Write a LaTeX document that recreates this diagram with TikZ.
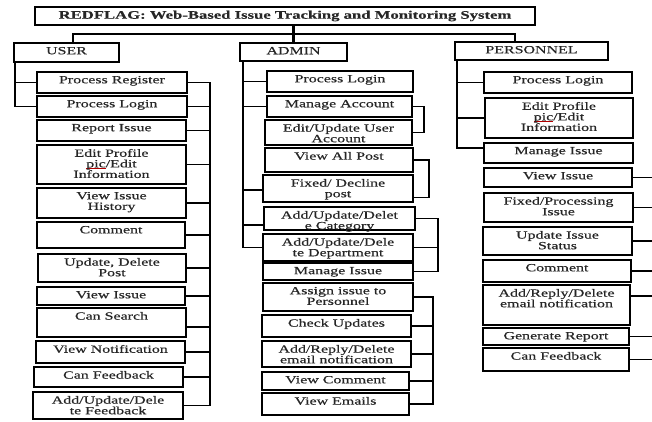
\documentclass[tikz,border=0pt]{standalone}
\usepackage{fontspec}
\setmainfont{Liberation Serif}[FakeStretch=1.45,FakeBold=0.4]
% a word marked with a thin red line under it
\newcommand\squig[1]{\setbox0\hbox{#1}\rlap{\textcolor{red!70!black}{\rule[-1.6pt]{\wd0}{0.8pt}}}\box0}
% a box from (left,top) to (right,bottom) with its text set at the top
\newcommand\bx[6]{%
  \node[box, minimum width={(#4)-(#2)}, minimum height={(#5)-(#3)}] (#1) at (#2,#3) {};
  \node[boxtext] (#1-t) at ([yshift=-4pt]#1.north) {#6};
}
\begin{document}
\begin{tikzpicture}[x=1pt,y=-1pt,
  every node/.style={inner sep=0pt, outer sep=0pt},
  box/.style={draw=black, line width=1.7pt, rectangle, anchor=north west},
  boxtext/.style={anchor=north, align=center, text=black!85, font=\fontsize{11}{10.6}\selectfont},
  wire/.style={draw=black, line width=1.7pt},
]
\fill[white] (0,0) rectangle (652,421);
\useasboundingbox (0,0) rectangle (652,421);

% title
\node[box, minimum width=500, minimum height=18] (title) at (35,7) {};
\node[anchor=center, text=black!85, font=\fontsize{11.5}{12}\selectfont\bfseries] (title-t) at (title.center) {REDFLAG: Web-Based Issue Tracking and Monitoring System};

% column heads
\bx{uhead}{14}{43}{119}{62}{USER}
\bx{ahead}{240}{43}{347}{61}{ADMIN}
\bx{phead}{455}{42}{608}{60}{PERSONNEL}

% user column
\bx{ureg}{37}{72}{187}{93}{Process Register}
\bx{ulog}{37}{96}{187}{117}{Process Login}
\bx{urep}{37}{120}{186}{141}{Report Issue}
\bx{uedit}{37}{145}{186}{184}{Edit Profile\\\squig{pic}/Edit\\Information}
\bx{uhist}{37}{188}{186}{218}{View Issue\\History}
\bx{ucom}{37}{222}{185}{248}{Comment}
\bx{uupd}{38}{254}{186}{282}{Update, Delete\\Post}
\bx{uview}{37}{287}{185}{305}{View Issue}
\bx{usearch}{37}{308}{186}{337}{Can Search}
\bx{unotif}{36}{341}{185}{363}{View Notification}
\bx{ufeed}{34}{367}{183}{387}{Can Feedback}
\bx{uaddfb}{33}{392}{183}{419}{Add/Update/Dele\\te Feedback}

% admin column
\bx{alog}{267}{71}{413}{92}{Process Login}
\bx{aman}{267}{96}{412}{117}{Manage Account}
\bx{aedit}{265}{120}{412}{145}{Edit/Update User\\Account}
\bx{aview}{265}{148}{413}{172}{View All Post}
\bx{afix}{263}{175}{413}{202}{Fixed/ Decline\\post}
\bx{acat}{264}{207}{415}{230}{Add/Update/Delet\\e Category}
\bx{adept}{263}{234}{413}{261}{Add/Update/Dele\\te Department}
\bx{amiss}{263}{263}{413}{280}{Manage Issue}
\bx{aassign}{263}{283}{413}{311}{Assign issue to\\Personnel}
\bx{acheck}{262}{315}{411}{337}{Check Updates}
\bx{aemail}{262}{341}{411}{367}{Add/Reply/Delete\\email notification}
\bx{acomm}{262}{372}{409}{390}{View Comment}
\bx{aemails}{262}{393}{409}{415}{View Emails}

% personnel column
\bx{plog}{484}{72}{632}{93}{Process Login}
\bx{pedit}{485}{98}{633}{138}{Edit Profile\\\squig{pic}/Edit\\Information}
\bx{pman}{484}{143}{633}{163}{Manage Issue}
\bx{pview}{484}{168}{632}{187}{View Issue}
\bx{pfix}{484}{193}{633}{222}{Fixed/Processing\\Issue}
\bx{pupd}{483}{227}{632}{255}{Update Issue\\Status}
\bx{pcom}{483}{260}{631}{282}{Comment}
\bx{pemail}{483}{285}{630}{325}{Add/Reply/Delete\\email notification}
\bx{pgen}{483}{328}{629}{345}{Generate Report}
\bx{pfb}{483}{348}{629}{371}{Can Feedback}

% top bus
\coordinate (ubus) at (73,34);
\coordinate (pbus) at (515,34);
\draw[wire, line width=2.4pt] (title.south -| ahead.north) -- (ahead.north);
\draw[wire] (ubus |- uhead.north) -- (ubus) -- (pbus) -- (pbus |- phead.north);

% user spines
\coordinate (uL) at (15,0);
\coordinate (uR) at (210,0);
\draw[wire] (uhead.south -| uL) |- (ulog.west);
\draw[wire] (ureg.west -| uL) -- (ureg.west);
\draw[wire] (ureg.east) -| (uR |- uaddfb.east) -- (uaddfb.east);
\coordinate (usearchR) at ([yshift=-4.5pt]usearch.east);
\foreach \n in {ulog,urep,uedit,uhist,ucom,uupd,uview,usearchR,unotif,ufeed}
  \draw[wire] (\n) -- (\n -| uR);

% admin spines and brackets
\coordinate (aL) at (243,0);
\coordinate (acatL) at ([yshift=-6.5pt]acat.west);
\coordinate (afixL) at ([yshift=-1.5pt]afix.west);
\draw[wire] (ahead.south -| aL) |- (adept.west);
\foreach \n in {alog.west,aman.west,afixL,acatL}
  \draw[wire] (\n -| aL) -- (\n);
\coordinate (aR1) at (424,0);
\coordinate (aR2) at (429,0);
\coordinate (aR3) at (438,0);
\coordinate (aR4) at (433,0);
\draw[wire] (aman.east) -| (aR1 |- aedit.east) -- (aedit.east);
\coordinate (afixR) at ([yshift=-9pt]afix.east);
\draw[wire] (aview.east) -| (aR2 |- afixR) -- (afixR);
\draw[wire] (acat.east) -| (aR3 |- amiss.east) -- (amiss.east);
\draw[wire] (adept.east) -- (adept.east -| aR3);
\draw[wire] (aassign.east) -| (aR4 |- aemails.east) -- (aemails.east);
\foreach \n in {acheck,aemail,acomm}
  \draw[wire] (\n.east) -- (\n.east -| aR4);

% personnel spines
\coordinate (pL) at (457,0);
\coordinate (pR) at (652,0);
\coordinate (pmanL) at ([yshift=5pt]pman.west);
\draw[wire] (phead.south -| pL) |- (pmanL);
\foreach \n in {plog,pedit}
  \draw[wire] (\n.west -| pL) -- (\n.west);
\coordinate (pemailR) at ([yshift=9pt]pemail.east);
\foreach \n in {pview.east,pfix.east,pupd.east,pcom.east,pemailR,pgen.east,pfb.east}
  \draw[wire] (\n) -- (\n -| pR);
\end{tikzpicture}
\end{document}
